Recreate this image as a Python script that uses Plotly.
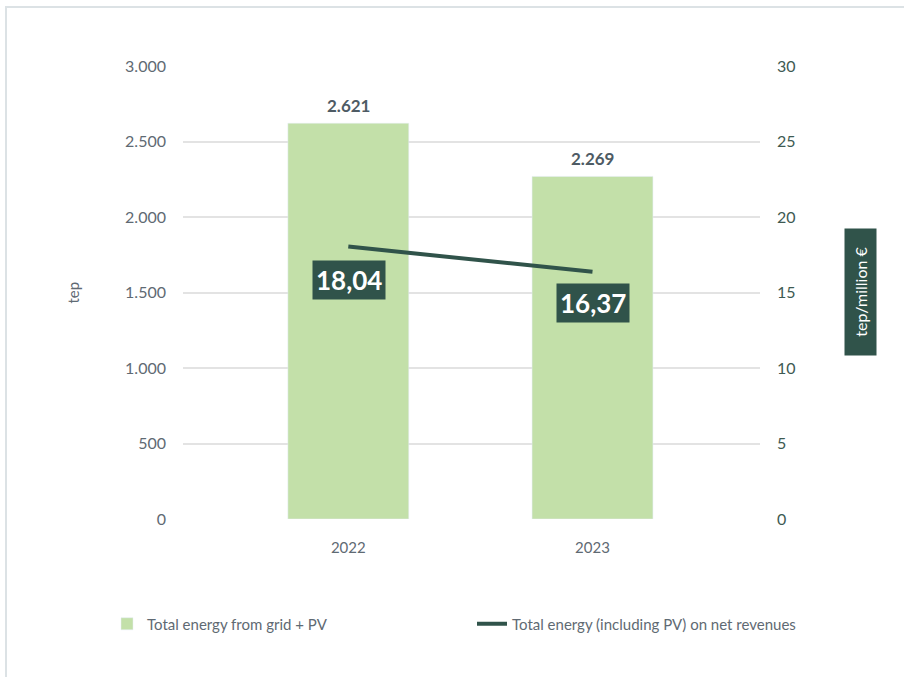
import plotly.graph_objects as go

years = ["2022", "2023"]
energy_tep = [2621, 2269]
tep_per_million = [18.04, 16.37]

left_ticks = [0, 500, 1000, 1500, 2000, 2500, 3000]
right_ticks = [0, 5, 10, 15, 20, 25, 30]

W, H = 904, 677
ML, MR, MT, MB = 183, 144, 66, 158
PW, PH = W - ML - MR, H - MT - MB

def px_x(p):
    return (p - ML) / PW

def px_y(p):
    return (H - MB - p) / PH

BAR = "#c3e0a9"
DARK = "#30534a"
GRAY = "#5f6a73"
FONT = "Lato"

fig = go.Figure()
fig.add_trace(go.Bar(
    x=years, y=energy_tep, name="Total energy from grid + PV",
    marker=dict(color=BAR), width=0.495, yaxis="y",
))
fig.add_trace(go.Scatter(
    x=years, y=tep_per_million, name="Total energy (including PV) on net revenues",
    mode="lines", line=dict(color=DARK, width=4), yaxis="y2",
))

annotations = []
for i, v in enumerate(energy_tep):
    annotations.append(dict(
        x=i, y=v, xref="x", yref="y", text=f"<b>{v:,}</b>".replace(",", "."),
        showarrow=False, yshift=18, xanchor="center", yanchor="middle",
        font=dict(family=FONT, size=17, color="#4e5b64"),
    ))
label_shift = [-33, -31]
for i, (v, s) in enumerate(zip(tep_per_million, label_shift)):
    annotations.append(dict(
        x=i, y=v, xref="x", yref="y2", text=f"<b>{v:.2f}</b>".replace(".", ","),
        showarrow=False, yshift=s, xshift=1, bgcolor=DARK, borderpad=3,
        xanchor="center", yanchor="middle",
        font=dict(family=FONT, size=26, color="white"),
    ))
annotations.append(dict(
    x=px_x(72), y=0.5, xref="paper", yref="paper", text="tep", textangle=-90,
    xanchor="center", yanchor="middle",
    showarrow=False, font=dict(family=FONT, size=15, color=GRAY),
))
annotations.append(dict(
    x=px_x(860.5), y=0.5, xref="paper", yref="paper",
    text="\u00a0\u00a0\u00a0tep/million €\u00a0\u00a0\u00a0",
    textangle=-90, showarrow=False, bgcolor=DARK, borderpad=6,
    xanchor="center", yanchor="middle",
    font=dict(family=FONT, size=16, color="white"),
))

shapes = [dict(
    type="path", xref="paper", yref="paper",
    path=f"M {px_x(6)} {px_y(H + 5)} L {px_x(6)} {px_y(7)} L {px_x(W + 5)} {px_y(7)}",
    line=dict(color="#dce2e5", width=2),
)]

fig.update_layout(
    width=W, height=H,
    margin=dict(l=ML, r=MR, t=MT, b=MB),
    paper_bgcolor="white", plot_bgcolor="white",
    separators=",.",
    font=dict(family=FONT, size=15, color=GRAY),
    showlegend=True,
    hovermode=False,
    legend=dict(
        orientation="h", x=px_x(107), y=px_y(624), xanchor="left", yanchor="middle",
        font=dict(family=FONT, size=15, color=GRAY), entrywidth=320, traceorder="normal",
    ),
    xaxis=dict(
        type="category", range=[-0.677, 1.686], showgrid=False, zeroline=False,
        showline=False, ticks="", ticklabelstandoff=18,
        tickfont=dict(family=FONT, size=15, color=GRAY),
    ),
    yaxis=dict(
        range=[0, 3000], tickvals=left_ticks, tickformat=",", showgrid=True,
        gridcolor="#e3e3e3", gridwidth=1.5, zeroline=False, showline=False,
        ticks="", ticklabelstandoff=16,
        tickfont=dict(family=FONT, size=16, color=GRAY),
    ),
    yaxis2=dict(
        range=[0, 30], tickvals=right_ticks, overlaying="y", side="right",
        showgrid=False, zeroline=False, showline=False, ticks="",
        ticklabelstandoff=16, tickfont=dict(family=FONT, size=16, color="#3e5a52"),
    ),
    annotations=annotations,
    shapes=shapes,
)

fig.write_html("out.html", config={"displayModeBar": False},
               post_script="document.body.style.margin='0';")
